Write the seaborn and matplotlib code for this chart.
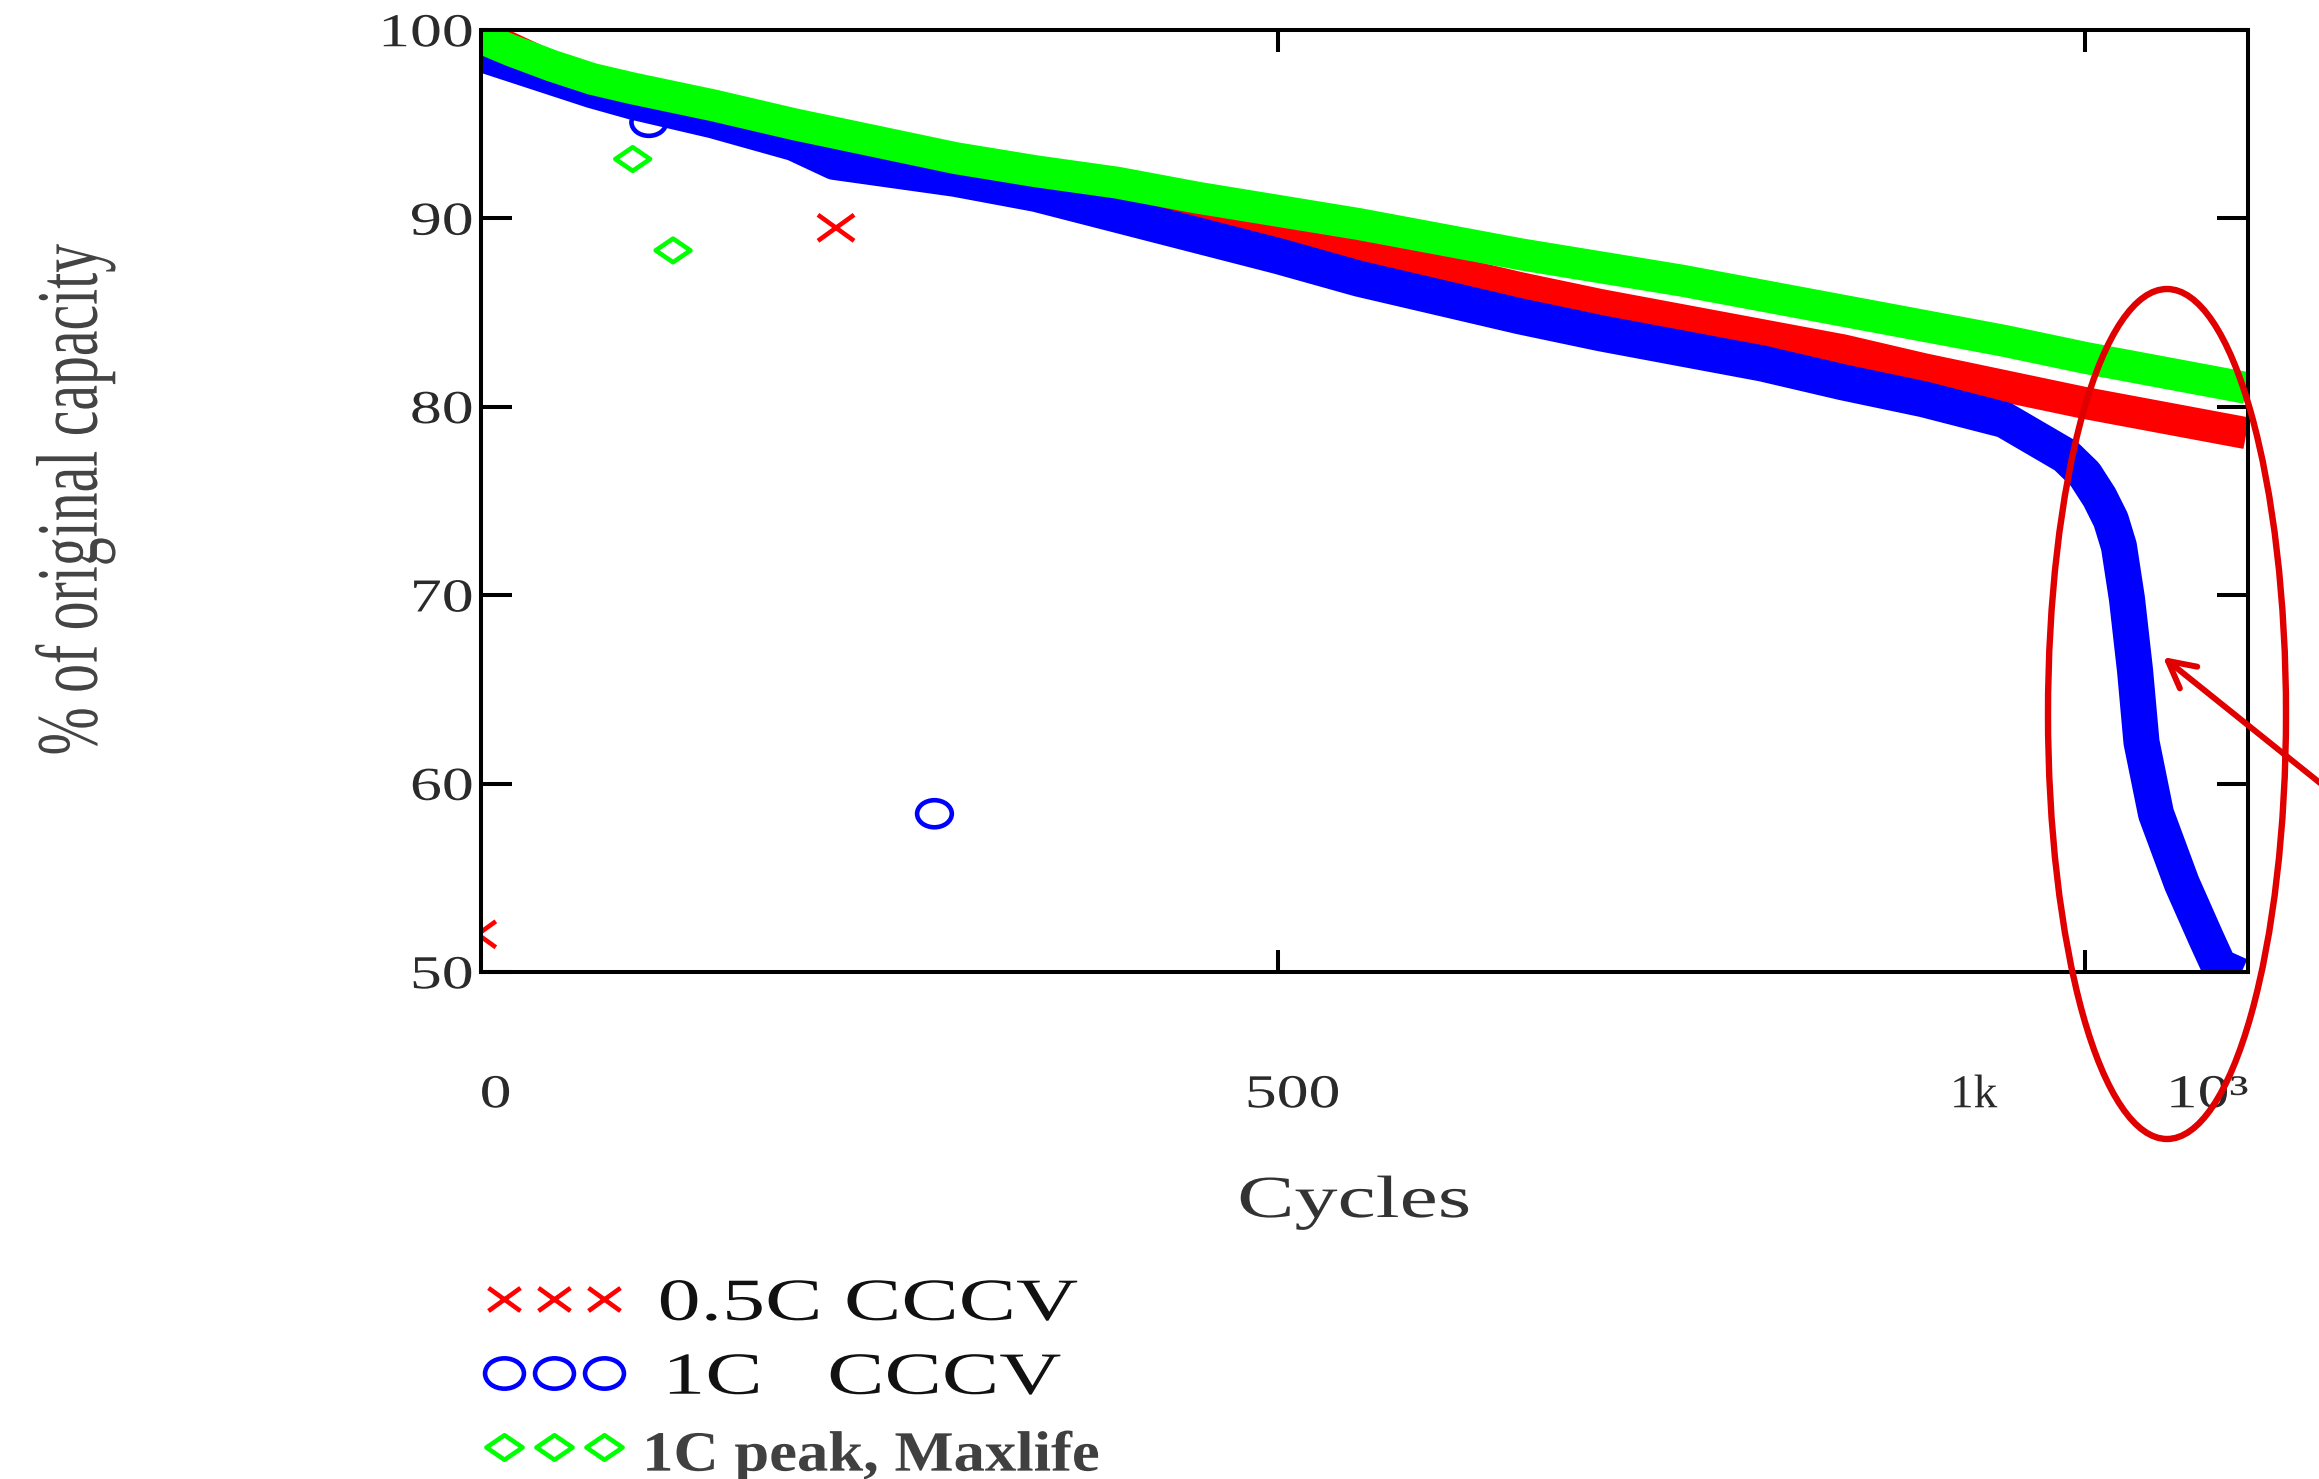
import numpy as np
import pandas as pd
import matplotlib
matplotlib.use("Agg")
import matplotlib.pyplot as plt
import seaborn as sns
import matplotlib.patheffects as pe
from matplotlib.transforms import Affine2D
from matplotlib.path import Path
from matplotlib.lines import Line2D
from matplotlib.patches import Ellipse, FancyArrowPatch

# ---------------- data ----------------
red_cycles = [0, 25, 50, 75, 100, 150, 200, 250, 300, 350, 400, 450, 500,
              550, 600, 650, 700, 750, 800, 850, 900, 950, 1000, 1050, 1100]
red_capacity = [100.0, 99.0, 98.0, 97.3, 96.6, 95.5, 94.6, 93.6, 92.6, 91.6,
                90.8, 90.2, 89.4, 88.4, 87.3, 86.3, 85.4, 84.6, 83.8, 83.0,
                82.0, 81.1, 80.2, 79.4, 78.6]

blue_cycles = [0, 25, 50, 75, 100, 150, 200, 225, 250, 300, 350, 400, 450,
               500, 550, 600, 650, 700, 750, 800, 850, 900, 950, 970, 988,
               1000, 1009, 1016, 1021, 1026, 1031, 1035, 1044, 1060, 1075, 1083, 1096]
blue_capacity = [98.9, 98.2, 97.5, 96.8, 96.2, 95.2, 94.0, 93.0, 92.7, 92.1,
                 91.3, 90.2, 89.1, 88.0, 86.8, 85.8, 84.8, 83.9, 83.1, 82.3,
                 81.3, 80.4, 79.3, 78.3, 77.4, 76.4, 75.2, 74.0, 72.6, 69.8,
                 66.0, 62.2, 58.4, 54.7, 51.8, 50.3, 49.8]

green_cycles = [0, 25, 50, 75, 100, 150, 200, 250, 300, 350, 400, 450, 500,
                550, 600, 650, 700, 750, 800, 850, 900, 950, 1000, 1050, 1100]
green_capacity = [99.8, 98.9, 98.1, 97.4, 96.9, 96.0, 95.0, 94.1, 93.2, 92.5,
                  91.9, 91.1, 90.4, 89.7, 88.9, 88.1, 87.4, 86.7, 85.9, 85.1,
                  84.3, 83.5, 82.6, 81.8, 81.0]

# isolated outlier points
red_out_cycles = [4, 226]
red_out_capacity = [52.0, 89.5]
blue_out_cycles = [110, 287]
blue_out_capacity = [95.1, 58.4]
green_out_cycles = [100, 125]
green_out_capacity = [93.15, 88.3]

series_labels = ["0.5C CCCV", "1C   CCCV", "1C peak, Maxlife"]
y_ticks = [50, 60, 70, 80, 90, 100]
y_tick_labels = ["50", "60", "70", "80", "90", "100"]
x_major_ticks = [500, 1000]
x_label_pos = [15, 509, 931, 1076]
x_labels = ["0", "500", "1k", "10\u00b3"]

RED, BLUE, GREEN = "#ff0000", "#0000ff", "#00ff00"
ANNOT = "#e00000"

# ---------------- style ----------------
sns.set_style("white")
plt.rcParams['font.family'] = ['Liberation Serif', 'DejaVu Serif']


class Stretch(pe.AbstractPathEffect):
    """Draw text stretched horizontally (in text coordinates)."""
    def __init__(self, sx=1.0, sy=1.0, anchor='left', dx=0.0, dy=0.0):
        super().__init__()
        self.sx, self.sy, self.anchor, self.dx, self.dy = sx, sy, anchor, dx, dy

    def draw_path(self, renderer, gc, tpath, affine, rgbFace=None):
        ext = tpath.get_extents()
        if self.anchor == 'center':
            a = 0.5 * (ext.x0 + ext.x1)
        elif self.anchor == 'right':
            a = ext.x1
        else:
            a = ext.x0
        pre = Affine2D().translate(-a, 0).scale(self.sx, self.sy).translate(a, 0)
        post = Affine2D().translate(self.dx, self.dy)
        renderer.draw_path(gc, tpath, pre + affine + post, rgbFace)


W, H = 2319, 1479
fig = plt.figure(figsize=(W / 100, H / 100), dpi=100)
fig.patch.set_facecolor("white")
ax = fig.add_axes([481 / W, 1 - 972 / H, 1767 / W, 942 / H])
ax.set_facecolor("white")

# marker shapes (slightly wide, as in the picture)
x_marker = Path([(-1, -0.72), (1, 0.72), (-1, 0.72), (1, -0.72)],
                [Path.MOVETO, Path.LINETO, Path.MOVETO, Path.LINETO])
o_marker = Path.unit_circle().transformed(Affine2D().scale(1, 0.78))
d_marker = Path([(0, 0.68), (1, 0), (0, -0.68), (-1, 0), (0, 0.68)],
                [Path.MOVETO, Path.LINETO, Path.LINETO, Path.LINETO, Path.CLOSEPOLY])

# ---------------- bands ----------------
line_kw = dict(ax=ax, errorbar=None, solid_capstyle='butt', solid_joinstyle='round')
sns.lineplot(x=red_cycles, y=red_capacity, color=RED, linewidth=23, **line_kw)
sns.scatterplot(x=red_out_cycles, y=red_out_capacity, marker=x_marker, s=26 ** 2,
                facecolor='none', edgecolor=RED, linewidth=3.3, ax=ax)
sns.lineplot(x=blue_cycles, y=blue_capacity, color=BLUE, linewidth=26, **line_kw)
sns.scatterplot(x=blue_out_cycles, y=blue_out_capacity, marker=o_marker, s=25 ** 2,
                facecolor='none', edgecolor=BLUE, linewidth=3.3, ax=ax)
sns.lineplot(x=green_cycles, y=green_capacity, color=GREEN, linewidth=23, **line_kw)
sns.scatterplot(x=green_out_cycles, y=green_out_capacity, marker=d_marker, s=25 ** 2,
                facecolor='none', edgecolor=GREEN, linewidth=3.3, ax=ax)

# ---------------- axes ----------------
ax.set_xlim(6, 1101)
ax.set_ylim(50, 100)
for sp in ax.spines.values():
    sp.set_visible(True)
    sp.set_color("black")
    sp.set_linewidth(2.9)

TXT = "#2a2a2a"
ax.set_yticks(y_ticks, labels=y_tick_labels)
ax.tick_params(axis='y', which='major', direction='in', length=22, width=2.9,
               left=True, right=True, labelleft=True, labelright=False,
               pad=5.8, labelsize=34, labelcolor=TXT, color='black')
ax.set_xticks(x_major_ticks, labels=["", ""])
ax.tick_params(axis='x', which='major', direction='in', length=15.6, width=2.9,
               bottom=True, top=True, color='black')
ax.set_xticks(x_label_pos, labels=x_labels, minor=True)
ax.tick_params(axis='x', which='minor', length=0, width=0, bottom=True, top=False,
               pad=74, labelsize=34, labelcolor=TXT)

for lbl in ax.get_yticklabels():
    lbl.set_path_effects([Stretch(1.35, anchor='right')])
for lbl in ax.get_xticklabels(minor=True):
    sx = 1.0 if lbl.get_text() == "1k" else 1.35
    lbl.set_path_effects([Stretch(sx, anchor='center')])

ax.set_ylabel("% of original capacity", fontsize=63, color="#444444",
              va='center', ha='center')
ax.yaxis.set_label_coords(-0.2298, 0.501)
ax.yaxis.label.set_path_effects([Stretch(0.66, anchor='center')])

ax.set_xlabel("Cycles", fontsize=43, color="#333333", va='baseline', ha='center')
ax.xaxis.set_label_coords(0.4943, -0.2601)
ax.xaxis.label.set_path_effects([Stretch(1.44, anchor='center')])

# ---------------- legend ----------------
handles = [
    Line2D([], [], linestyle='none', marker=x_marker, markersize=23,
           markeredgecolor=RED, markerfacecolor='none', markeredgewidth=3.3),
    Line2D([], [], linestyle='none', marker=o_marker, markersize=28,
           markeredgecolor=BLUE, markerfacecolor='none', markeredgewidth=3.3),
    Line2D([], [], linestyle='none', marker=d_marker, markersize=26,
           markeredgecolor=GREEN, markerfacecolor='none', markeredgewidth=3.3),
]
leg = ax.legend(handles, series_labels, loc='upper left',
                bbox_to_anchor=(486 / W, 1 - 1278 / H), bbox_transform=fig.transFigure,
                frameon=False, numpoints=3, fontsize=43, handlelength=2.27,
                handleheight=0.7, handletextpad=0.62, labelspacing=0.32,
                borderpad=0, borderaxespad=0)
t0, t1, t2 = leg.get_texts()
t0.set_color("#111111")
t1.set_color("#111111")
t0.set_path_effects([Stretch(1.44, anchor='left')])
t1.set_path_effects([Stretch(1.44, anchor='left', dx=6)])
t2.set_fontsize(41)
t2.set_fontweight('bold')
t2.set_color("#404040")
t2.set_path_effects([Stretch(1.1, anchor='left', dx=-16, dy=-3)])

# ---------------- annotation: ellipse + arrow ----------------
ell = Ellipse((2167 / W, 1 - 714 / H), 238 / W, 850 / H, transform=fig.transFigure,
              fill=False, edgecolor=ANNOT, linewidth=4.6)
fig.add_artist(ell)
arr = FancyArrowPatch(posA=(2335 / W, 1 - 795 / H), posB=(2163 / W, 1 - 657 / H),
                      transform=fig.transFigure,
                      arrowstyle='->,head_length=19,head_width=10',
                      mutation_scale=1, linewidth=4.3, color=ANNOT,
                      shrinkA=0, shrinkB=0)
fig.add_artist(arr)

fig.savefig("out.png", dpi=100)
